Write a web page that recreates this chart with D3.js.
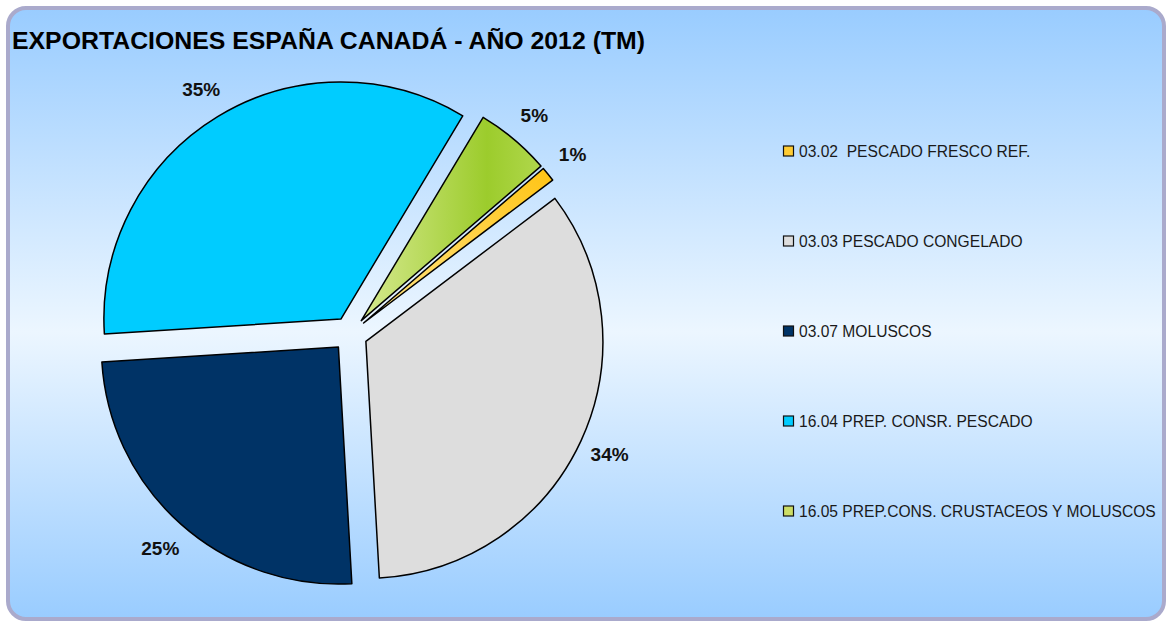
<!DOCTYPE html>
<meta charset="utf-8" />
<style>
  body {
    margin: 0px;
    padding: 0px;
    background: #fff;
  }
  svg {
    display: block;
    font-family: "Liberation Sans", Arial, sans-serif;
  }
  .slices path {
    stroke: #000;
    stroke-width: 1.5px;
    stroke-linejoin: round;
  }
  .labels text {
    font-weight: bold;
    font-size: 19px;
    fill: #111;
  }
  .legend text {
    font-size: 15.6px;
    fill: #1a1a1a;
    white-space: pre;
  }
  .legend rect {
    stroke: #111;
    stroke-width: 1.2px;
  }
</style>

<svg width="1167" height="622"></svg>

<script src="https://d3js.org/d3.v7.min.js"></script>
<script>
  // data (percent of tonnage)
  const categories = [
    "03.02  PESCADO FRESCO REF.",
    "03.03 PESCADO CONGELADO",
    "03.07 MOLUSCOS",
    "16.04 PREP. CONSR. PESCADO",
    "16.05 PREP.CONS. CRUSTACEOS Y MOLUSCOS"
  ];
  const values = [1.0, 34.4, 24.9, 34.6, 5.1];
  const labels = ["1%", "34%", "25%", "35%", "5%"];
  const colors = ["url(#gYellow)", "#dddddd", "#003366", "#00ccff", "url(#gGreen)"];
  const legendColors = ["#ffcc33", "#dddddd", "#003366", "#00ccff", "#ccdd66"];
  const title = "EXPORTACIONES ESPAÑA CANADÁ - AÑO 2012 (TM)";

  const svg = d3.select("svg"),
    width = +svg.attr("width"),
    height = +svg.attr("height");

  const defs = svg.append("defs");

  const bg = defs.append("linearGradient").attr("id", "gBg").attr("x1", 0).attr("y1", 0).attr("x2", 0).attr("y2", 1);
  bg.append("stop").attr("offset", "0%").attr("stop-color", "#99ccff");
  bg.append("stop").attr("offset", "53%").attr("stop-color", "#ecf6ff");
  bg.append("stop").attr("offset", "100%").attr("stop-color", "#99ccff");

  const gg = defs.append("linearGradient").attr("id", "gGreen").attr("x1", 0).attr("y1", 0).attr("x2", 1).attr("y2", 0);
  gg.append("stop").attr("offset", "0%").attr("stop-color", "#d6e98f");
  gg.append("stop").attr("offset", "70%").attr("stop-color", "#9ccc2c");
  gg.append("stop").attr("offset", "100%").attr("stop-color", "#b0d74c");

  const gy = defs.append("linearGradient").attr("id", "gYellow").attr("x1", 0).attr("y1", 1).attr("x2", 1).attr("y2", 0);
  gy.append("stop").attr("offset", "0%").attr("stop-color", "#ffe58a");
  gy.append("stop").attr("offset", "100%").attr("stop-color", "#ffc414");

  // frame
  svg
    .append("rect")
    .attr("x", 8)
    .attr("y", 8)
    .attr("width", width - 11)
    .attr("height", height - 11)
    .attr("rx", 18)
    .attr("fill", "url(#gBg)")
    .attr("stroke", "#aaaacc")
    .attr("stroke-width", 4);

  svg
    .append("text")
    .attr("x", 12)
    .attr("y", 49)
    .attr("font-size", "24px")
    .attr("font-weight", "bold")
    .attr("fill", "#000")
    .attr("textLength", 633)
    .attr("lengthAdjust", "spacingAndGlyphs")
    .text(title);

  // pie
  const cx = 350,
    cy = 334,
    radius = 237,
    explode = 17.5;

  const pie = d3
    .pie()
    .sort(null)
    .startAngle((49.3 * Math.PI) / 180)
    .endAngle((49.3 * Math.PI) / 180 + 2 * Math.PI);

  const arcs = pie(values);
  const arc = d3.arc().innerRadius(0).outerRadius(radius);
  const labelArc = d3.arc().innerRadius(286).outerRadius(286);

  const g = svg.append("g").attr("transform", `translate(${cx},${cy})`);

  g.append("g")
    .attr("class", "slices")
    .selectAll("path")
    .data(arcs)
    .join("path")
    .attr("transform", (d) => {
      const a = (d.startAngle + d.endAngle) / 2;
      return `translate(${Math.sin(a) * explode},${-Math.cos(a) * explode})`;
    })
    .attr("fill", (d, i) => colors[i])
    .attr("d", arc);

  g.append("g")
    .attr("class", "labels")
    .selectAll("text")
    .data(arcs)
    .join("text")
    .attr("text-anchor", "middle")
    .attr("dy", "0.35em")
    .attr("transform", (d) => `translate(${labelArc.centroid(d)})`)
    .text((d, i) => labels[i]);

  // legend
  const ly = d3.scalePoint().domain(categories).range([151, 511]);

  const legend = svg
    .append("g")
    .attr("class", "legend")
    .selectAll("g")
    .data(categories)
    .join("g")
    .attr("transform", (d) => `translate(783,${ly(d)})`);

  legend
    .append("rect")
    .attr("x", 0.5)
    .attr("y", -5)
    .attr("width", 10)
    .attr("height", 10)
    .attr("fill", (d, i) => legendColors[i]);

  legend
    .append("text")
    .attr("x", 16)
    .attr("y", 6)
    .text((d) => d);
</script>
